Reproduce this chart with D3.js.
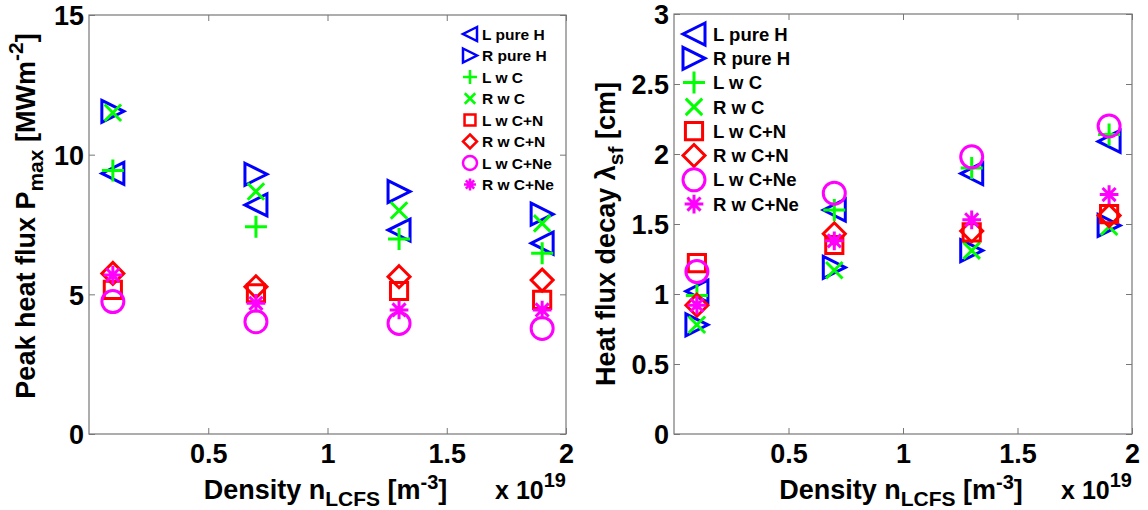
<!DOCTYPE html>
<html>
<head>
<meta charset="utf-8">
<script src="https://cdn.jsdelivr.net/npm/d3@7"></script>
<style>
  html, body { margin: 0; padding: 0; background: #fff; }
  text { font-family: "Liberation Sans", Arial, sans-serif; font-weight: bold; fill: #000; }
</style>
</head>
<body>
<svg id="chart" width="1148" height="510"></svg>
<script>
// density positions (x 10^19 m^-3)
const density = [0.1, 0.7, 1.3, 1.9]
const seriesNames = ['L pure H', 'R pure H', 'L w C', 'R w C', 'L w C+N', 'R w C+N', 'L w C+Ne', 'R w C+Ne']
const seriesMarkers = ['triL', 'triR', 'plus', 'cross', 'square', 'diamond', 'circle', 'star']
const seriesColors = ['#0000ff', '#0000ff', '#00ff00', '#00ff00', '#ff0000', '#ff0000', '#ff00ff', '#ff00ff']

// peak heat flux P_max [MW m^-2]
const peakLpureH = [9.33, 8.2, 7.3, 6.83]
const peakRpureH = [11.55, 9.3, 8.68, 7.87]
const peakLwC = [9.43, 7.42, 6.98, 6.47]
const peakRwC = [11.5, 8.68, 8.0, 7.54]
const peakLwCN = [5.16, 5.04, 5.12, 4.8]
const peakRwCN = [5.75, 5.27, 5.63, 5.51]
const peakLwCNe = [4.74, 4.02, 3.96, 3.78]
const peakRwCNe = [5.69, 4.68, 4.44, 4.44]

// heat flux decay length lambda_sf [cm]
const decayLpureH = [1.02, 1.6, 1.86, 2.09]
const decayRpureH = [0.78, 1.19, 1.31, 1.49]
const decayLwC = [0.99, 1.6, 1.9, 2.14]
const decayRwC = [0.78, 1.17, 1.31, 1.48]
const decayLwCN = [1.22, 1.35, 1.44, 1.57]
const decayRwCN = [0.92, 1.43, 1.45, 1.56]
const decayLwCNe = [1.16, 1.72, 1.98, 2.2]
const decayRwCNe = [0.92, 1.38, 1.53, 1.71]

const xTicks = [0.5, 1, 1.5, 2]
const peakTicks = [0, 5, 10, 15]
const decayTicks = [0, 0.5, 1, 1.5, 2, 2.5, 3]

const svg = d3.select('#chart')

function markerPath(type, s) {
    const k = s * 0.75
    switch (type) {
        case 'triL': return `M${s},${-s}L${-s},0L${s},${s}Z`
        case 'triR': return `M${-s},${-s}L${s},0L${-s},${s}Z`
        case 'plus': return `M${-s},0H${s}M0,${-s}V${s}`
        case 'cross': return `M${-k},${-k}L${k},${k}M${-k},${k}L${k},${-k}`
        case 'square': { const q = s * 0.78; return `M${-q},${-q}H${q}V${q}H${-q}Z` }
        case 'diamond': return `M0,${-s}L${s},0L0,${s}L${-s},0Z`
        case 'circle': return `M${s},0A${s},${s} 0 1,1 ${-s},0A${s},${s} 0 1,1 ${s},0Z`
        case 'star': {
            const d = s * 0.85, e = d * 0.7
            return `M${-d},0H${d}M0,${-d}V${d}M${-e},${-e}L${e},${e}M${-e},${e}L${e},${-e}`
        }
    }
}

function drawMarker(g, type, color, x, y, s, sw) {
    g.append('path')
        .attr('d', markerPath(type, s))
        .attr('transform', `translate(${x},${y})`)
        .attr('fill', 'none')
        .attr('stroke', color)
        .attr('stroke-width', sw)
        .attr('stroke-linejoin', 'miter')
}

function drawPanel(opts) {
    const {left, right, top, bottom, yMax, yTicks, yTickFmt, series, legend} = opts
    const x = d3.scaleLinear().domain([0, 2]).range([left, right])
    const y = d3.scaleLinear().domain([0, yMax]).range([bottom, top])
    const g = svg.append('g')

    // box
    g.append('rect')
        .attr('x', left).attr('y', top)
        .attr('width', right - left).attr('height', bottom - top)
        .attr('fill', 'none').attr('stroke', '#777').attr('stroke-width', 1.2)

    // axes with inward ticks
    const tickLen = 6
    const ax = g.append('g').attr('transform', `translate(0,${bottom})`)
        .call(d3.axisBottom(x).tickValues(xTicks).tickSizeInner(-tickLen).tickSizeOuter(0).tickPadding(10).tickFormat(d3.format('')))
    const axTop = g.append('g').attr('transform', `translate(0,${top})`)
        .call(d3.axisTop(x).tickValues(xTicks).tickSizeInner(-tickLen).tickSizeOuter(0).tickFormat(''))
    const ay = g.append('g').attr('transform', `translate(${left},0)`)
        .call(d3.axisLeft(y).tickValues(yTicks).tickSizeInner(-tickLen).tickSizeOuter(0).tickPadding(5).tickFormat(yTickFmt))
    const ayR = g.append('g').attr('transform', `translate(${right},0)`)
        .call(d3.axisRight(y).tickValues(yTicks).tickSizeInner(-tickLen).tickSizeOuter(0).tickFormat(''))
    ;[ax, axTop, ay, ayR].forEach(a => {
        a.select('.domain').remove()
        a.selectAll('line').attr('stroke', '#777')
        a.selectAll('text').style('font-size', '27px').style('font-family', '"Liberation Sans", Arial, sans-serif').style('font-weight', 'bold')
    })
    ax.selectAll('text').attr('dy', '0.71em')
    ay.selectAll('text').attr('dy', '0.36em')

    // data points
    const pts = g.append('g')
    series.forEach((vals, i) => {
        vals.forEach((v, j) => {
            drawMarker(pts, seriesMarkers[i], seriesColors[i], x(density[j]), y(v), 11, 3)
        })
    })

    // legend
    const lg = g.append('g')
    seriesNames.forEach((name, i) => {
        const yy = legend.y0 + i * legend.dy
        drawMarker(lg, seriesMarkers[i], seriesColors[i], legend.mx, yy, legend.ms, legend.sw)
        lg.append('text')
            .attr('x', legend.tx).attr('y', yy)
            .attr('dy', '0.36em')
            .style('font-size', legend.fs + 'px')
            .text(name)
    })

    // x label
    const xl = g.append('text')
        .attr('x', (left + right) / 2 - 2).attr('y', 499)
        .attr('text-anchor', 'middle')
        .style('font-size', '27px')
    xl.append('tspan').text('Density n')
    xl.append('tspan').attr('dy', 7).style('font-size', '21px').text('LCFS')
    xl.append('tspan').attr('dy', -7).text(' [m')
    xl.append('tspan').attr('dy', -10).style('font-size', '20px').text('-3')
    xl.append('tspan').attr('dy', 10).text(']')

    const sc = g.append('text')
        .attr('x', right).attr('y', 499)
        .attr('text-anchor', 'end')
        .style('font-size', '25px')
    sc.append('tspan').text('x 10')
    sc.append('tspan').attr('dy', -12).style('font-size', '20px').text('19')

    return {g, x, y}
}

const left = drawPanel({
    left: 89, right: 566, top: 15, bottom: 434,
    yMax: 15, yTicks: peakTicks, yTickFmt: d3.format(''),
    series: [peakLpureH, peakRpureH, peakLwC, peakRwC, peakLwCN, peakRwCN, peakLwCNe, peakRwCNe],
    legend: {y0: 34, dy: 21.5, mx: 470, tx: 482, ms: 7, sw: 2.5, fs: 15.5}
})

const right = drawPanel({
    left: 674, right: 1132, top: 14, bottom: 434,
    yMax: 3, yTicks: decayTicks, yTickFmt: d3.format(''),
    series: [decayLpureH, decayRpureH, decayLwC, decayRwC, decayLwCN, decayRwCN, decayLwCNe, decayRwCNe],
    legend: {y0: 34, dy: 24.3, mx: 694, tx: 713, ms: 11, sw: 3, fs: 18.5}
})

// y labels
const yl1 = svg.append('text')
    .attr('transform', 'translate(35,216) rotate(-90)')
    .attr('text-anchor', 'middle')
    .style('font-size', '27px')
yl1.append('tspan').text('Peak heat flux P')
yl1.append('tspan').attr('dy', 8).style('font-size', '21px').text('max')
yl1.append('tspan').attr('dy', -8).text(' [MWm')
yl1.append('tspan').attr('dy', -12).style('font-size', '21px').text('-2')
yl1.append('tspan').attr('dy', 12).text(']')

const yl2 = svg.append('text')
    .attr('transform', 'translate(615,234) rotate(-90)')
    .attr('text-anchor', 'middle')
    .style('font-size', '27px')
yl2.append('tspan').text('Heat flux decay \u03bb')
yl2.append('tspan').attr('dy', 8).style('font-size', '21px').text('sf')
yl2.append('tspan').attr('dy', -8).text(' [cm]')
</script>
</body>
</html>
